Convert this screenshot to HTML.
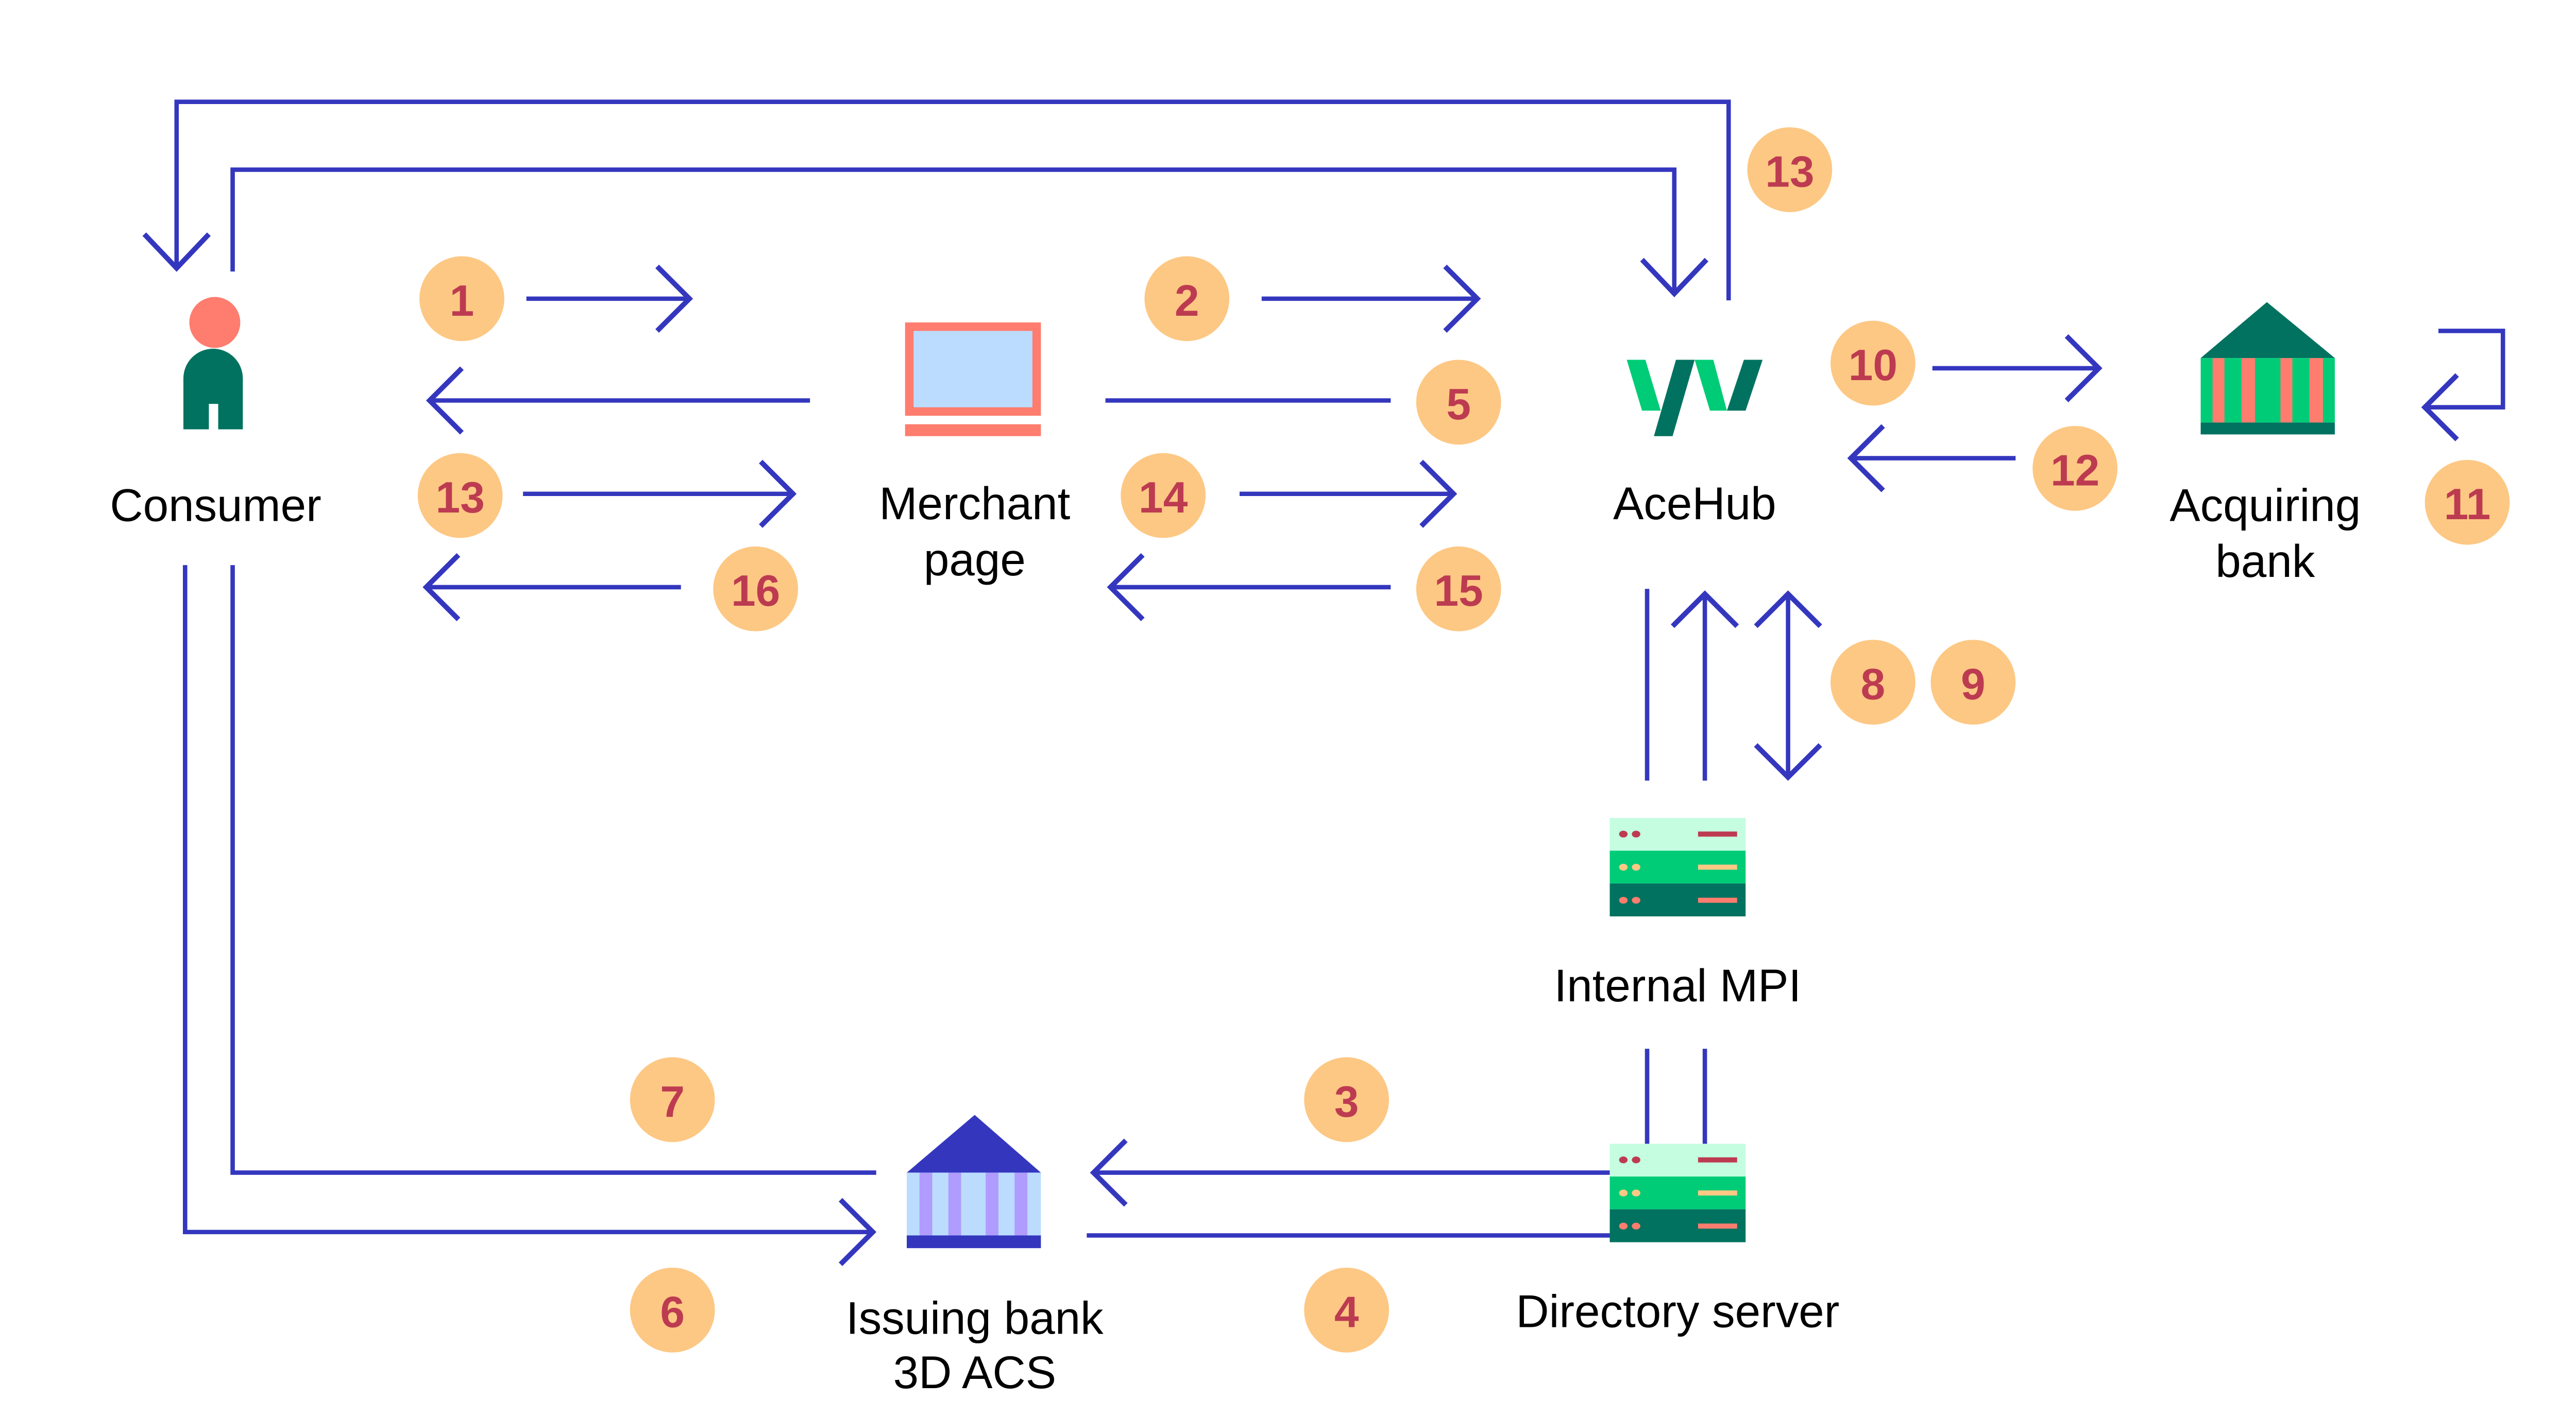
<!DOCTYPE html>
<html><head><meta charset="utf-8"><style>
html,body{margin:0;padding:0;background:#fff;}
svg{display:block;}
.t{font-family:"Liberation Sans",sans-serif;font-size:27px;fill:#000;text-anchor:middle;}
.n{font-family:"Liberation Sans",sans-serif;font-size:26px;fill:#bd3b51;text-anchor:middle;font-weight:bold;}
</style></head><body>
<svg width="5168" height="2751" viewBox="0 0 1568 835" preserveAspectRatio="none" xmlns="http://www.w3.org/2000/svg">
<g fill="none" stroke="#3437be" stroke-width="2.6" stroke-linecap="butt" stroke-linejoin="miter">
<polyline points="1018,177 1018,60 104,60 104,158"/>
<polyline points="85,138 104,158 123,138" stroke-width="3"/>
<polyline points="137,160 137,100 986,100 986,173"/>
<polyline points="967,153 986,173 1005,153" stroke-width="3"/>
<line x1="310" y1="176" x2="406" y2="176"/>
<polyline points="387,157 406,176 387,195" stroke-width="3"/>
<line x1="477" y1="236" x2="253" y2="236"/>
<polyline points="272,217 253,236 272,255" stroke-width="3"/>
<line x1="308" y1="291" x2="467" y2="291"/>
<polyline points="448,272 467,291 448,310" stroke-width="3"/>
<line x1="401" y1="346" x2="251" y2="346"/>
<polyline points="270,327 251,346 270,365" stroke-width="3"/>
<line x1="743" y1="176" x2="870" y2="176"/>
<polyline points="851,157 870,176 851,195" stroke-width="3"/>
<line x1="651" y1="236" x2="819" y2="236"/>
<line x1="730" y1="291" x2="856" y2="291"/>
<polyline points="837,272 856,291 837,310" stroke-width="3"/>
<line x1="819" y1="346" x2="654" y2="346"/>
<polyline points="673,327 654,346 673,365" stroke-width="3"/>
<line x1="1138" y1="217" x2="1236" y2="217"/>
<polyline points="1217,198 1236,217 1217,236" stroke-width="3"/>
<line x1="1187" y1="270" x2="1090" y2="270"/>
<polyline points="1109,251 1090,270 1109,289" stroke-width="3"/>
<polyline points="1436,195 1474,195 1474,240 1428,240"/>
<polyline points="1447,221 1428,240 1447,259" stroke-width="3"/>
<line x1="970" y1="347" x2="970" y2="460"/>
<line x1="1004" y1="460" x2="1004" y2="350"/>
<polyline points="985,369 1004,350 1023,369" stroke-width="3"/>
<line x1="1053" y1="350" x2="1053" y2="458"/>
<polyline points="1034,369 1053,350 1072,369" stroke-width="3"/>
<polyline points="1034,439 1053,458 1072,439" stroke-width="3"/>
<line x1="970" y1="618" x2="970" y2="674"/>
<line x1="1004" y1="618" x2="1004" y2="674"/>
<line x1="948" y1="691" x2="644" y2="691"/>
<polyline points="663,672 644,691 663,710" stroke-width="3"/>
<line x1="640" y1="728" x2="948" y2="728"/>
<polyline points="137,333 137,691 516,691"/>
<polyline points="109,333 109,726 514,726"/>
<polyline points="495,707 514,726 495,745" stroke-width="3"/>
</g>

<circle cx="126.5" cy="190" r="15" fill="#fe7d6e"/>
<path d="M108,253 L108,223 A17.5,17.5 0 0 1 143,223 L143,253 L128.5,253 L128.5,238 L123,238 L123,253 Z" fill="#00725f"/>
<text class="t" x="127" y="307">Consumer</text>

<rect x="533" y="190" width="80" height="55" fill="#fe7d6e"/>
<rect x="538" y="195" width="70" height="45" fill="#bbdcfe"/>
<rect x="533" y="250" width="80" height="7" fill="#fe7d6e"/>
<text class="t" x="574" y="306">Merchant</text>
<text class="t" x="574" y="339">page</text>

<polygon points="958,212 969,212 978,242 967,242" fill="#00cc77"/>
<polygon points="998,212 1009,212 1017,242 1007,242" fill="#00cc77"/>
<polygon points="987,212 998,212 985,257 974,257" fill="#00725f"/>
<polygon points="1027,212 1038,212 1028,242 1017,242" fill="#00725f"/>
<text class="t" x="998" y="306">AceHub</text>

<polygon points="1335,178 1296,211 1375,211" fill="#00725f"/>
<rect x="1296" y="211" width="79" height="38" fill="#00cc77"/>
<rect x="1303" y="211" width="7" height="38" fill="#fe7d6e"/>
<rect x="1320" y="211" width="8" height="38" fill="#fe7d6e"/>
<rect x="1343" y="211" width="7" height="38" fill="#fe7d6e"/>
<rect x="1360" y="211" width="8" height="38" fill="#fe7d6e"/>
<rect x="1296" y="249" width="79" height="7" fill="#00725f"/>
<text class="t" x="1334" y="307">Acquiring</text>
<text class="t" x="1334" y="340">bank</text>

<g>
<rect x="948" y="482" width="80" height="19.3" fill="#c5fde0"/>
<rect x="948" y="501.3" width="80" height="19.3" fill="#00cc77"/>
<rect x="948" y="520.6" width="80" height="19.4" fill="#00725f"/>
<ellipse cx="956" cy="491.5" rx="2.5" ry="2" fill="#bd3b51"/><ellipse cx="963.5" cy="491.5" rx="2.5" ry="2" fill="#bd3b51"/>
<rect x="1000" y="490" width="23" height="3" fill="#bd3b51"/>
<ellipse cx="956" cy="511" rx="2.5" ry="2" fill="#fdc884"/><ellipse cx="963.5" cy="511" rx="2.5" ry="2" fill="#fdc884"/>
<rect x="1000" y="509.5" width="23" height="3" fill="#fdc884"/>
<ellipse cx="956" cy="530.5" rx="2.5" ry="2" fill="#fe7d6e"/><ellipse cx="963.5" cy="530.5" rx="2.5" ry="2" fill="#fe7d6e"/>
<rect x="1000" y="529" width="23" height="3" fill="#fe7d6e"/>
</g>
<text class="t" x="988" y="590">Internal MPI</text>

<g transform="translate(0,192)">
<rect x="948" y="482" width="80" height="19.3" fill="#c5fde0"/>
<rect x="948" y="501.3" width="80" height="19.3" fill="#00cc77"/>
<rect x="948" y="520.6" width="80" height="19.4" fill="#00725f"/>
<ellipse cx="956" cy="491.5" rx="2.5" ry="2" fill="#bd3b51"/><ellipse cx="963.5" cy="491.5" rx="2.5" ry="2" fill="#bd3b51"/>
<rect x="1000" y="490" width="23" height="3" fill="#bd3b51"/>
<ellipse cx="956" cy="511" rx="2.5" ry="2" fill="#fdc884"/><ellipse cx="963.5" cy="511" rx="2.5" ry="2" fill="#fdc884"/>
<rect x="1000" y="509.5" width="23" height="3" fill="#fdc884"/>
<ellipse cx="956" cy="530.5" rx="2.5" ry="2" fill="#fe7d6e"/><ellipse cx="963.5" cy="530.5" rx="2.5" ry="2" fill="#fe7d6e"/>
<rect x="1000" y="529" width="23" height="3" fill="#fe7d6e"/>
</g>
<text class="t" x="988" y="782">Directory server</text>

<polygon points="574,657 534,691 613,691" fill="#3437be"/>
<rect x="534" y="691" width="79" height="37" fill="#bbdcfe"/>
<rect x="541.5" y="691" width="7.5" height="37" fill="#b09bfe"/>
<rect x="558.5" y="691" width="7.5" height="37" fill="#b09bfe"/>
<rect x="580.5" y="691" width="7.5" height="37" fill="#b09bfe"/>
<rect x="597.5" y="691" width="7.5" height="37" fill="#b09bfe"/>
<rect x="534" y="728" width="79" height="7.5" fill="#3437be"/>
<text class="t" x="574" y="786">Issuing bank</text>
<text class="t" x="574" y="818">3D ACS</text>

<g fill="#fdc884">
<circle cx="1054" cy="100" r="25"/>
<circle cx="272" cy="176" r="25"/>
<circle cx="699" cy="176" r="25"/>
<circle cx="859" cy="237" r="25"/>
<circle cx="271" cy="292" r="25"/>
<circle cx="445" cy="347" r="25"/>
<circle cx="685" cy="292" r="25"/>
<circle cx="859" cy="347" r="25"/>
<circle cx="1103" cy="214" r="25"/>
<circle cx="1222" cy="276" r="25"/>
<circle cx="1453" cy="296" r="25"/>
<circle cx="1103" cy="402" r="25"/>
<circle cx="1162" cy="402" r="25"/>
<circle cx="793" cy="648" r="25"/>
<circle cx="793" cy="772" r="25"/>
<circle cx="396" cy="648" r="25"/>
<circle cx="396" cy="772" r="25"/>
</g>
<g>
<text class="n" x="1054" y="110">13</text>
<text class="n" x="272" y="186">1</text>
<text class="n" x="699" y="186">2</text>
<text class="n" x="859" y="247">5</text>
<text class="n" x="271" y="302">13</text>
<text class="n" x="445" y="357">16</text>
<text class="n" x="685" y="302">14</text>
<text class="n" x="859" y="357">15</text>
<text class="n" x="1103" y="224">10</text>
<text class="n" x="1222" y="286">12</text>
<text class="n" x="1453" y="306">11</text>
<text class="n" x="1103" y="412">8</text>
<text class="n" x="1162" y="412">9</text>
<text class="n" x="793" y="658">3</text>
<text class="n" x="793" y="782">4</text>
<text class="n" x="396" y="658">7</text>
<text class="n" x="396" y="782">6</text>
</g>
</svg>
</body></html>
